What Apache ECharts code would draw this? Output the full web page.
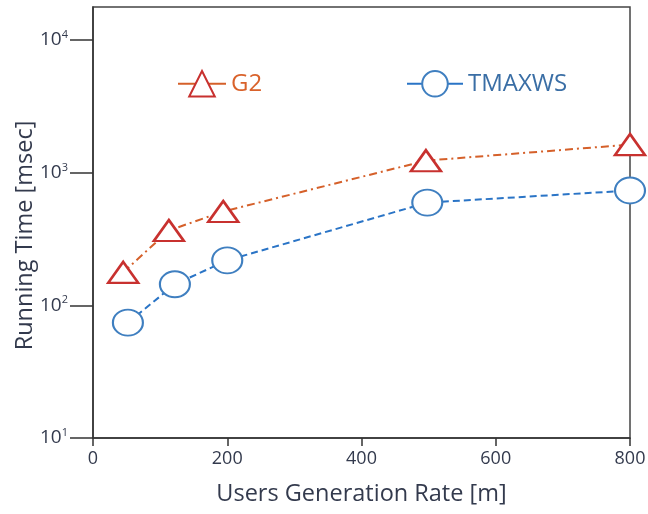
<!DOCTYPE html>
<html><head><meta charset="utf-8">
<script src="https://cdn.jsdelivr.net/npm/echarts@6/dist/echarts.min.js"></script>
<style>html,body{margin:0;padding:0;background:#fff}#c{width:648px;height:514px}</style>
</head><body><div id="c"></div>
<script>
const seriesNames = ['G2', 'TMAXWS'];
const g2X = [45, 113, 194, 496, 800];
const g2Y = [177, 366, 509, 1230, 1626];
const tmX = [52, 122, 200, 498, 800];
const tmY = [74, 144, 218, 594, 733];
const xTicks = [0, 200, 400, 600, 800];
const yTicks = [10, 100, 1000, 10000];

const toPairs = (xs, ys) => xs.map((x, i) => [x, ys[i]]);
const txt = '#333a4d';
const font = 'Open Sans';

const chart = echarts.init(document.getElementById('c'));
chart.setOption({
  backgroundColor: '#fff',
  animation: false,
  grid: { left: 93, top: 7, right: 18, bottom: 76, outerBoundsMode: 'none', containLabel: false,
          show: true, borderColor: '#444', borderWidth: 1.5, backgroundColor: 'transparent' },
  legend: [
    { data: [seriesNames[0]], left: 172, top: 65, itemWidth: 48, itemHeight: 32, itemGap: 6,
      textStyle: { color: '#d9622b', fontSize: 24, fontFamily: font },
      lineStyle: { type: 'solid', width: 2 } },
    { data: [seriesNames[1]], left: 401, top: 65, itemWidth: 56, itemHeight: 32, itemGap: 6,
      textStyle: { color: '#3a6ea5', fontSize: 24, fontFamily: font },
      lineStyle: { type: 'solid', width: 2 } }
  ],
  xAxis: {
    type: 'value', min: 0, max: 800, interval: 200,
    name: 'Users Generation Rate [m]', nameLocation: 'middle', nameGap: 44, nameMoveOverlap: false,
    nameTextStyle: { color: txt, fontSize: 23.5, fontFamily: font },
    axisLine: { lineStyle: { color: '#333', width: 1.5 } },
    axisTick: { show: true, length: 8, lineStyle: { color: '#333', width: 1.5 }, customValues: xTicks },
    axisLabel: { color: txt, fontSize: 18, fontFamily: font, margin: 12, customValues: xTicks },
    splitLine: { show: false }
  },
  yAxis: {
    type: 'log', logBase: 10, min: 10, max: 17700,
    name: 'Running Time [msec]', nameLocation: 'middle', nameGap: 56, nameMoveOverlap: false,
    nameTextStyle: { color: txt, fontSize: 23.5, fontFamily: font, padding: [0, 26, 0, 0] },
    axisLine: { show: true, lineStyle: { color: '#333', width: 1.5 } },
    axisTick: { show: true, length: 23, lineStyle: { color: '#333', width: 1.5 }, customValues: yTicks },
    axisLabel: {
      color: txt, fontSize: 19, fontFamily: font, margin: 25, customValues: yTicks,
      formatter: v => {
        const e = Math.round(Math.log10(v));
        return '{b|10}{s|' + e + '}';
      },
      rich: {
        b: { fontSize: 19, fontFamily: font, color: txt },
        s: { fontSize: 11, fontFamily: font, color: txt, verticalAlign: 'top', padding: [0, 0, 10, 0] }
      }
    },
    splitLine: { show: false },
    minorTick: { show: false }
  },
  series: [
    {
      name: seriesNames[0], type: 'line', data: toPairs(g2X, g2Y),
      symbol: 'triangle', symbolSize: [30, 21],
      itemStyle: { color: '#fff', borderColor: '#c8312f', borderWidth: 2.5 },
      lineStyle: { color: '#d5602a', width: 2, type: [8, 4, 2, 4] },
      z: 3
    },
    {
      name: seriesNames[1], type: 'line', data: toPairs(tmX, tmY),
      symbol: 'circle', symbolSize: [30, 26],
      itemStyle: { color: '#fff', borderColor: '#3f7fc0', borderWidth: 2 },
      lineStyle: { color: '#2a74c6', width: 2, type: [7, 4] },
      z: 2
    }
  ]
});
</script></body></html>
